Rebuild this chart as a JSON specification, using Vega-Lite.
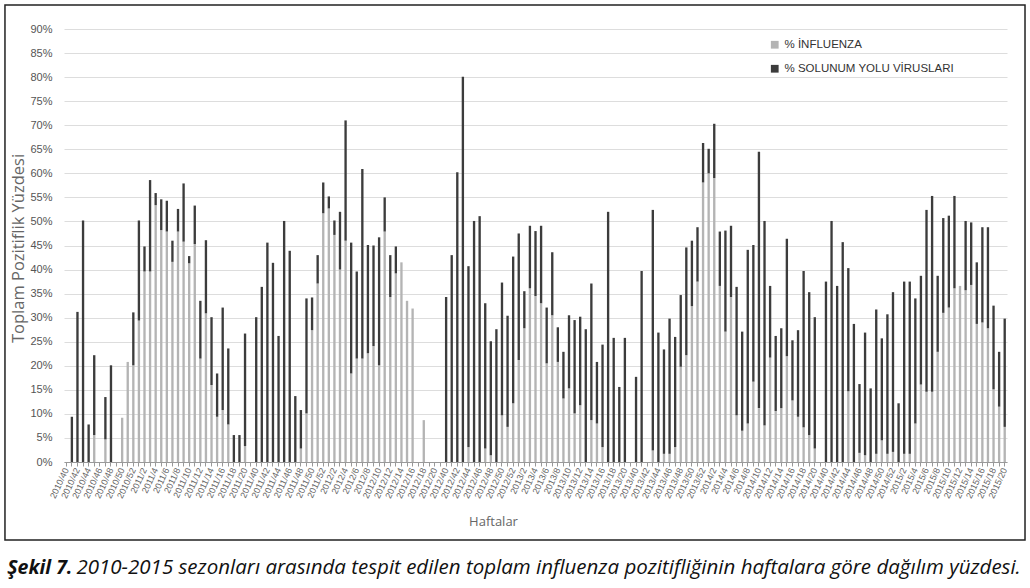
{
  "$schema": "https://vega.github.io/schema/vega-lite/v6.json",
  "width": 943,
  "height": 433,
  "autosize": {"type": "none"},
  "padding": {"left": 64, "top": 29, "right": 23, "bottom": 126},
  "background": "white",
  "config": {"font": "Liberation Sans", "view": {"stroke": null}},
  "title": {
    "text": "Şekil 7.",
    "subtitle": "\u200b\u00a0\u00a0\u00a0\u00a0\u00a0\u00a0\u00a0\u00a0\u00a0\u00a0\u00a0\u00a0\u00a02010-2015 sezonları arasında tespit edilen toplam influenza pozitifliğinin haftalara göre dağılım yüzdesi.",
    "orient": "bottom",
    "anchor": "start",
    "frame": "bounds",
    "offset": 18,
    "dx": 3,
    "font": "Open Sans",
    "subtitleFont": "Open Sans",
    "fontSize": 19.5,
    "fontStyle": "italic",
    "fontWeight": "bold",
    "color": "#111111",
    "subtitleFontSize": 20.5,
    "subtitleFontStyle": "italic",
    "subtitleFontWeight": "normal",
    "subtitleColor": "#111111",
    "subtitlePadding": -20
  },
  "layer": [
    {
      "data": {"values": [
        {"w":"2010/40","inf":0,"sol":0},
        {"w":"2010/41","inf":0,"sol":9.4},
        {"w":"2010/42","inf":0,"sol":31.2},
        {"w":"2010/43","inf":0,"sol":50.2},
        {"w":"2010/44","inf":0,"sol":7.8},
        {"w":"2010/45","inf":5.6,"sol":16.6},
        {"w":"2010/46","inf":0,"sol":0},
        {"w":"2010/47","inf":4.7,"sol":8.8},
        {"w":"2010/48","inf":0,"sol":20.1},
        {"w":"2010/49","inf":0,"sol":0},
        {"w":"2010/50","inf":9.2,"sol":0},
        {"w":"2010/51","inf":20.8,"sol":0},
        {"w":"2010/52","inf":20.1,"sol":11.0},
        {"w":"2011/1","inf":29.4,"sol":20.8},
        {"w":"2011/2","inf":39.6,"sol":5.2},
        {"w":"2011/3","inf":39.6,"sol":19.0},
        {"w":"2011/4","inf":53.4,"sol":2.5},
        {"w":"2011/5","inf":48.2,"sol":6.4},
        {"w":"2011/6","inf":47.9,"sol":6.4},
        {"w":"2011/7","inf":41.6,"sol":4.4},
        {"w":"2011/8","inf":47.9,"sol":4.7},
        {"w":"2011/9","inf":45.8,"sol":12.1},
        {"w":"2011/10","inf":41.3,"sol":1.5},
        {"w":"2011/11","inf":45.3,"sol":8.0},
        {"w":"2011/12","inf":21.5,"sol":12.0},
        {"w":"2011/13","inf":30.9,"sol":15.2},
        {"w":"2011/14","inf":16.0,"sol":14.1},
        {"w":"2011/15","inf":9.4,"sol":9.0},
        {"w":"2011/16","inf":10.8,"sol":21.3},
        {"w":"2011/17","inf":7.8,"sol":15.8},
        {"w":"2011/18","inf":0,"sol":5.6},
        {"w":"2011/19","inf":0,"sol":5.6},
        {"w":"2011/20","inf":3.3,"sol":23.4},
        {"w":"2011/39","inf":0,"sol":0},
        {"w":"2011/40","inf":0,"sol":30.1},
        {"w":"2011/41","inf":0,"sol":36.4},
        {"w":"2011/42","inf":0,"sol":45.6},
        {"w":"2011/43","inf":0,"sol":41.4},
        {"w":"2011/44","inf":0,"sol":26.2},
        {"w":"2011/45","inf":0,"sol":50.1},
        {"w":"2011/46","inf":0,"sol":43.9},
        {"w":"2011/47","inf":0,"sol":13.7},
        {"w":"2011/48","inf":2.8,"sol":8.0},
        {"w":"2011/49","inf":10.1,"sol":23.9},
        {"w":"2011/50","inf":27.4,"sol":6.8},
        {"w":"2011/51","inf":37.1,"sol":5.9},
        {"w":"2011/52","inf":51.7,"sol":6.4},
        {"w":"2012/1","inf":52.7,"sol":2.5},
        {"w":"2012/2","inf":47.2,"sol":3.0},
        {"w":"2012/3","inf":40.0,"sol":12.0},
        {"w":"2012/4","inf":46.0,"sol":25.0},
        {"w":"2012/5","inf":18.4,"sol":27.2},
        {"w":"2012/6","inf":21.5,"sol":18.1},
        {"w":"2012/7","inf":21.5,"sol":39.4},
        {"w":"2012/8","inf":22.6,"sol":22.5},
        {"w":"2012/9","inf":24.1,"sol":20.9},
        {"w":"2012/10","inf":20.1,"sol":26.6},
        {"w":"2012/11","inf":47.9,"sol":7.1},
        {"w":"2012/12","inf":34.3,"sol":8.7},
        {"w":"2012/13","inf":39.2,"sol":5.6},
        {"w":"2012/14","inf":41.5,"sol":0},
        {"w":"2012/15","inf":33.5,"sol":0},
        {"w":"2012/16","inf":31.9,"sol":0},
        {"w":"2012/17","inf":0,"sol":0},
        {"w":"2012/18","inf":8.7,"sol":0},
        {"w":"2012/19","inf":0,"sol":0},
        {"w":"2012/20","inf":0,"sol":0},
        {"w":"2012/39","inf":0,"sol":0},
        {"w":"2012/40","inf":0,"sol":34.3},
        {"w":"2012/41","inf":0,"sol":43.0},
        {"w":"2012/42","inf":0,"sol":60.2},
        {"w":"2012/43","inf":0,"sol":80.1},
        {"w":"2012/44","inf":3.1,"sol":37.6},
        {"w":"2012/45","inf":0,"sol":50.1},
        {"w":"2012/46","inf":0,"sol":51.1},
        {"w":"2012/47","inf":2.8,"sol":30.2},
        {"w":"2012/48","inf":1.4,"sol":23.7},
        {"w":"2012/49","inf":0,"sol":27.6},
        {"w":"2012/50","inf":9.7,"sol":27.6},
        {"w":"2012/51","inf":7.3,"sol":23.1},
        {"w":"2012/52","inf":12.2,"sol":30.5},
        {"w":"2013/1","inf":21.2,"sol":26.3},
        {"w":"2013/2","inf":27.8,"sol":7.7},
        {"w":"2013/3","inf":36.1,"sol":13.0},
        {"w":"2013/4","inf":34.5,"sol":13.5},
        {"w":"2013/5","inf":33.0,"sol":16.1},
        {"w":"2013/6","inf":20.5,"sol":11.6},
        {"w":"2013/7","inf":30.5,"sol":13.1},
        {"w":"2013/8","inf":20.8,"sol":7.2},
        {"w":"2013/9","inf":13.2,"sol":9.7},
        {"w":"2013/10","inf":15.3,"sol":15.2},
        {"w":"2013/11","inf":10.1,"sol":19.4},
        {"w":"2013/12","inf":11.8,"sol":18.4},
        {"w":"2013/13","inf":0,"sol":27.6},
        {"w":"2013/14","inf":8.7,"sol":28.4},
        {"w":"2013/15","inf":8.0,"sol":12.8},
        {"w":"2013/16","inf":3.1,"sol":21.3},
        {"w":"2013/17","inf":0,"sol":52.0},
        {"w":"2013/18","inf":0,"sol":25.8},
        {"w":"2013/19","inf":0,"sol":15.6},
        {"w":"2013/20","inf":0,"sol":25.8},
        {"w":"2013/39","inf":0,"sol":0},
        {"w":"2013/40","inf":0,"sol":17.7},
        {"w":"2013/41","inf":0,"sol":39.7},
        {"w":"2013/42","inf":0,"sol":0},
        {"w":"2013/43","inf":2.4,"sol":50.0},
        {"w":"2013/44","inf":0,"sol":26.9},
        {"w":"2013/45","inf":1.7,"sol":21.7},
        {"w":"2013/46","inf":1.7,"sol":28.1},
        {"w":"2013/47","inf":3.1,"sol":22.9},
        {"w":"2013/48","inf":19.8,"sol":14.9},
        {"w":"2013/49","inf":22.2,"sol":22.4},
        {"w":"2013/50","inf":32.4,"sol":13.6},
        {"w":"2013/51","inf":37.5,"sol":11.3},
        {"w":"2013/52","inf":58.1,"sol":8.2},
        {"w":"2014/1","inf":60.0,"sol":5.1},
        {"w":"2014/2","inf":59.0,"sol":11.3},
        {"w":"2014/3","inf":36.6,"sol":11.3},
        {"w":"2014/4","inf":27.1,"sol":21.0},
        {"w":"2014/5","inf":34.3,"sol":14.8},
        {"w":"2014/6","inf":9.7,"sol":26.7},
        {"w":"2014/7","inf":6.5,"sol":20.6},
        {"w":"2014/8","inf":8.0,"sol":36.1},
        {"w":"2014/9","inf":16.7,"sol":28.4},
        {"w":"2014/10","inf":11.2,"sol":53.3},
        {"w":"2014/11","inf":7.6,"sol":42.5},
        {"w":"2014/12","inf":21.7,"sol":14.9},
        {"w":"2014/13","inf":10.6,"sol":15.6},
        {"w":"2014/14","inf":11.2,"sol":16.6},
        {"w":"2014/15","inf":22.0,"sol":24.4},
        {"w":"2014/16","inf":12.8,"sol":12.5},
        {"w":"2014/17","inf":9.4,"sol":18.0},
        {"w":"2014/18","inf":7.2,"sol":32.5},
        {"w":"2014/19","inf":5.6,"sol":29.7},
        {"w":"2014/20","inf":2.8,"sol":27.3},
        {"w":"2014/39","inf":0,"sol":0},
        {"w":"2014/40","inf":0,"sol":37.5},
        {"w":"2014/41","inf":0,"sol":50.1},
        {"w":"2014/42","inf":0,"sol":36.6},
        {"w":"2014/43","inf":0,"sol":45.7},
        {"w":"2014/44","inf":14.7,"sol":25.6},
        {"w":"2014/45","inf":0,"sol":28.7},
        {"w":"2014/46","inf":1.9,"sol":14.3},
        {"w":"2014/47","inf":1.4,"sol":25.5},
        {"w":"2014/48","inf":0,"sol":15.3},
        {"w":"2014/49","inf":1.7,"sol":30.0},
        {"w":"2014/50","inf":4.5,"sol":21.2},
        {"w":"2014/51","inf":1.7,"sol":29.0},
        {"w":"2014/52","inf":2.1,"sol":33.2},
        {"w":"2015/1","inf":0,"sol":12.2},
        {"w":"2015/2","inf":1.7,"sol":35.8},
        {"w":"2015/3","inf":1.7,"sol":35.8},
        {"w":"2015/4","inf":8.0,"sol":26.0},
        {"w":"2015/5","inf":16.1,"sol":22.6},
        {"w":"2015/6","inf":14.6,"sol":37.8},
        {"w":"2015/7","inf":14.6,"sol":40.7},
        {"w":"2015/8","inf":22.9,"sol":15.8},
        {"w":"2015/9","inf":31.0,"sol":19.7},
        {"w":"2015/10","inf":32.1,"sol":19.1},
        {"w":"2015/11","inf":36.1,"sol":19.2},
        {"w":"2015/12","inf":36.6,"sol":0},
        {"w":"2015/13","inf":35.7,"sol":14.4},
        {"w":"2015/14","inf":36.8,"sol":13.0},
        {"w":"2015/15","inf":28.7,"sol":12.8},
        {"w":"2015/16","inf":29.0,"sol":19.8},
        {"w":"2015/17","inf":27.8,"sol":21.0},
        {"w":"2015/18","inf":15.1,"sol":17.4},
        {"w":"2015/19","inf":11.5,"sol":11.4},
        {"w":"2015/20","inf":7.3,"sol":22.5}
      ]},
      "transform": [{"fold": ["inf", "sol"], "as": ["k", "v"]}],
      "mark": {"type": "bar"},
      "encoding": {
        "x": {
          "field": "w", "type": "nominal", "sort": null,
          "scale": {"paddingInner": 0.58, "paddingOuter": 0.2},
          "axis": {
            "labelAngle": -65,
            "labelFontSize": 9,
            "labelColor": "#666666",
            "labelOverlap": false,
            "labelPadding": 2,
            "labelExpr": "toNumber(split(datum.label, '/')[1]) % 2 == 0 ? datum.label : ''",
            "ticks": true, "tickSize": 4, "tickColor": "#999999",
            "domainColor": "#999999",
            "grid": false,
            "title": "Haftalar",
            "titleFont": "Open Sans",
            "titleFontSize": 13,
            "titleFontWeight": "normal",
            "titleColor": "#666666",
            "titleX": 429,
            "titleY": 63,
            "titleBaseline": "alphabetic"
          }
        },
        "y": {
          "field": "v", "type": "quantitative", "stack": "zero",
          "scale": {"domain": [0, 90], "nice": false},
          "axis": {
            "values": [0,5,10,15,20,25,30,35,40,45,50,55,60,65,70,75,80,85,90],
            "labelExpr": "datum.value + '%'",
            "labelFontSize": 11,
            "labelColor": "#555555",
            "labelPadding": 12,
            "domain": false,
            "ticks": false,
            "grid": true,
            "gridColor": "#dddddd",
            "title": "Toplam Pozitiflik Yüzdesi",
            "titleFont": "Open Sans",
            "titleFontSize": 16.5,
            "titleFontWeight": "normal",
            "titleColor": "#666666",
            "titleX": -46,
            "titleY": 219,
            "titleAlign": "center",
            "titleBaseline": "middle"
          }
        },
        "color": {
          "field": "k", "type": "nominal",
          "scale": {"domain": ["inf", "sol"], "range": ["#b4b4b4", "#3c3c3c"]},
          "legend": {
            "orient": "none",
            "legendX": 705,
            "legendY": 10,
            "direction": "vertical",
            "title": null,
            "symbolType": "square",
            "symbolSize": 60,
            "labelFontSize": 11.5,
            "labelColor": "#333333",
            "labelLimit": 400,
            "rowPadding": 11,
            "labelExpr": "datum.label == 'inf' ? '% İNFLUENZA' : '% SOLUNUM YOLU VİRUSLARI'"
          }
        },
        "order": {"field": "k", "sort": "ascending"}
      }
    },
    {
      "data": {"values": [{"frame": "border"}]},
      "mark": {"type": "rect", "fill": null, "stroke": "#222222", "strokeWidth": 1.5, "clip": false},
      "encoding": {
        "x": {"datum": -0.0626, "type": "quantitative", "scale": {"domain": [0, 1], "nice": false, "zero": false}, "axis": null},
        "x2": {"datum": 1.0191},
        "y": {"datum": 1.0554, "type": "quantitative", "scale": {"domain": [0, 1], "nice": false, "zero": false}, "axis": null},
        "y2": {"datum": -0.1801}
      }
    }
  ],
  "resolve": {"scale": {"x": "independent", "y": "independent"}, "axis": {"x": "independent", "y": "independent"}}
}
